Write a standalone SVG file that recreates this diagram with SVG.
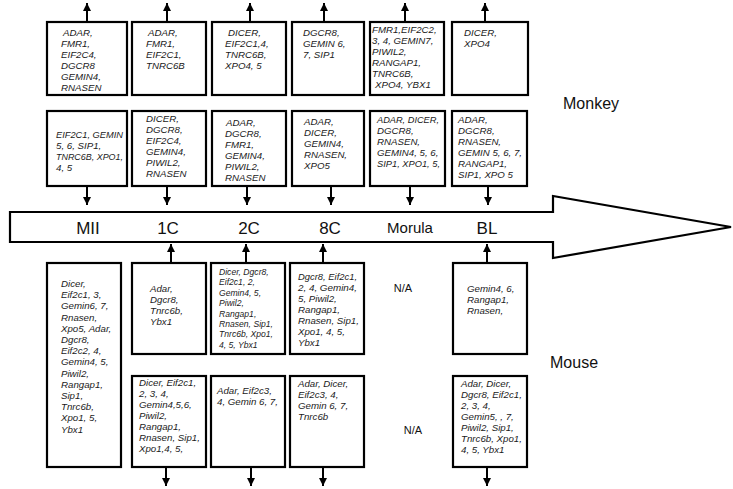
<svg xmlns="http://www.w3.org/2000/svg" width="733" height="489" viewBox="0 0 733 489">
<defs>
<style>
.box{fill:#fff;stroke:#000;stroke-width:2.2}
.t{font-family:"Liberation Sans",Arial,sans-serif;font-style:italic;font-size:9.7px;fill:#1a1a1a}
.s{font-size:8.6px}
.lab{font-family:"Liberation Sans",Arial,sans-serif;font-size:16px;fill:#111}
.na{font-family:"Liberation Sans",Arial,sans-serif;font-size:11px;fill:#111}
.con line{stroke:#000;stroke-width:2}
</style>
<marker id="ah" viewBox="0 0 8 8" refX="8" refY="4" markerWidth="8" markerHeight="8" markerUnits="userSpaceOnUse" orient="auto">
<path d="M0,0 L8,4 L0,8 Z" fill="#000"/>
</marker>
</defs>
<rect width="733" height="489" fill="#fff"/>

<g id="stage-arrow">
<polygon points="10,212 553,212 553,196 731,227 553,258 553,242 10,242" fill="#fff" stroke="#000" stroke-width="2.2" stroke-linejoin="miter"/>
<g class="lab" text-anchor="middle">
<text x="88" y="234" font-size="17">MII</text>
<text x="168" y="234" font-size="17">1C</text>
<text x="249" y="234" font-size="17">2C</text>
<text x="330" y="234" font-size="17">8C</text>
<text x="410" y="233" font-size="15">Morula</text>
<text x="487" y="234" font-size="17">BL</text>
</g>
</g>

<g id="label-monkey"><text class="lab" x="563" y="109">Monkey</text></g>
<g id="label-mouse"><text class="lab" x="550" y="368">Mouse</text></g>

<g class="con" id="connectors">
<line x1="87" y1="22" x2="87" y2="3" marker-end="url(#ah)"/>
<line x1="167" y1="22" x2="167" y2="3" marker-end="url(#ah)"/>
<line x1="250" y1="22" x2="250" y2="3" marker-end="url(#ah)"/>
<line x1="324" y1="22" x2="324" y2="3" marker-end="url(#ah)"/>
<line x1="405" y1="22" x2="405" y2="3" marker-end="url(#ah)"/>
<line x1="485" y1="22" x2="485" y2="3" marker-end="url(#ah)"/>
<line x1="87" y1="186" x2="87" y2="205" marker-end="url(#ah)"/>
<line x1="167" y1="186" x2="167" y2="205" marker-end="url(#ah)"/>
<line x1="247" y1="186" x2="247" y2="205" marker-end="url(#ah)"/>
<line x1="331" y1="186" x2="331" y2="205" marker-end="url(#ah)"/>
<line x1="410" y1="186" x2="410" y2="205" marker-end="url(#ah)"/>
<line x1="488" y1="186" x2="488" y2="205" marker-end="url(#ah)"/>
<line x1="171" y1="263" x2="171" y2="244" marker-end="url(#ah)"/>
<line x1="246" y1="263" x2="246" y2="244" marker-end="url(#ah)"/>
<line x1="323" y1="263" x2="323" y2="244" marker-end="url(#ah)"/>
<line x1="487" y1="263" x2="487" y2="244" marker-end="url(#ah)"/>
<line x1="166" y1="467" x2="166" y2="486" marker-end="url(#ah)"/>
<line x1="251" y1="467" x2="251" y2="486" marker-end="url(#ah)"/>
<line x1="323" y1="467" x2="323" y2="486" marker-end="url(#ah)"/>
<line x1="487" y1="467" x2="487" y2="486" marker-end="url(#ah)"/>
</g>

<!-- Monkey row 1 -->
<g id="monkey-mii-a">
<rect class="box" x="47" y="22" width="80" height="73"/>
<text class="t"><tspan x="63" y="36">ADAR,</tspan><tspan x="61" y="47">FMR1,</tspan><tspan x="61" y="58">EIF2C4,</tspan><tspan x="61" y="69">DGCR8</tspan><tspan x="61" y="80">GEMIN4,</tspan><tspan x="61" y="91">RNASEN</tspan></text>
</g>
<g id="monkey-1c-a">
<rect class="box" x="132" y="22" width="74" height="73"/>
<text class="t"><tspan x="148" y="36">ADAR,</tspan><tspan x="146" y="47">FMR1,</tspan><tspan x="146" y="58">EIF2C1,</tspan><tspan x="146" y="69">TNRC6B</tspan></text>
</g>
<g id="monkey-2c-a">
<rect class="box" x="212" y="22" width="74" height="73"/>
<text class="t"><tspan x="228" y="36">DICER,</tspan><tspan x="225" y="47">EIF2C1,4,</tspan><tspan x="225" y="58">TNRC6B,</tspan><tspan x="225" y="69">XPO4, 5</tspan></text>
</g>
<g id="monkey-8c-a">
<rect class="box" x="292" y="22" width="72" height="73"/>
<text class="t"><tspan x="303" y="36">DGCR8,</tspan><tspan x="303" y="47">GEMIN 6,</tspan><tspan x="303" y="58">7, SIP1</tspan></text>
</g>
<g id="monkey-morula-a">
<rect class="box" x="370" y="22" width="74" height="73"/>
<text class="t"><tspan x="372" y="33">FMR1,EIF2C2,</tspan><tspan x="372" y="44">3, 4, GEMIN7,</tspan><tspan x="372" y="55">PIWIL2,</tspan><tspan x="372" y="66">RANGAP1,</tspan><tspan x="372" y="77">TNRC6B,</tspan><tspan x="375" y="88">XPO4, YBX1</tspan></text>
</g>
<g id="monkey-bl-a">
<rect class="box" x="452" y="22" width="76" height="73"/>
<text class="t"><tspan x="464" y="36">DICER,</tspan><tspan x="464" y="47">XPO4</tspan></text>
</g>

<!-- Monkey row 2 -->
<g id="monkey-mii-b">
<rect class="box" x="47" y="111" width="80" height="75"/>
<text class="t"><tspan x="56" y="138" textLength="67" lengthAdjust="spacingAndGlyphs">EIF2C1, GEMIN</tspan><tspan x="56" y="149">5, 6, SIP1,</tspan><tspan x="56" y="160" textLength="67" lengthAdjust="spacingAndGlyphs">TNRC6B, XPO1,</tspan><tspan x="56" y="171">4, 5</tspan></text>
</g>
<g id="monkey-1c-b">
<rect class="box" x="132" y="111" width="74" height="75"/>
<text class="t"><tspan x="146" y="122">DICER,</tspan><tspan x="146" y="133">DGCR8,</tspan><tspan x="146" y="144">EIF2C4,</tspan><tspan x="146" y="155">GEMIN4,</tspan><tspan x="146" y="166">PIWIL2,</tspan><tspan x="146" y="177">RNASEN</tspan></text>
</g>
<g id="monkey-2c-b">
<rect class="box" x="212" y="111" width="74" height="75"/>
<text class="t"><tspan x="226" y="126">ADAR,</tspan><tspan x="225" y="137">DGCR8,</tspan><tspan x="225" y="148">FMR1,</tspan><tspan x="225" y="159">GEMIN4,</tspan><tspan x="225" y="170">PIWIL2,</tspan><tspan x="225" y="181">RNASEN</tspan></text>
</g>
<g id="monkey-8c-b">
<rect class="box" x="292" y="111" width="72" height="75"/>
<text class="t"><tspan x="304" y="125">ADAR,</tspan><tspan x="304" y="136">DICER,</tspan><tspan x="304" y="147">GEMIN4,</tspan><tspan x="304" y="158">RNASEN,</tspan><tspan x="304" y="169">XPO5</tspan></text>
</g>
<g id="monkey-morula-b">
<rect class="box" x="370" y="111" width="75" height="75"/>
<text class="t"><tspan x="377" y="123" textLength="62" lengthAdjust="spacingAndGlyphs">ADAR, DICER,</tspan><tspan x="377" y="134">DGCR8,</tspan><tspan x="377" y="145">RNASEN,</tspan><tspan x="377" y="156">GEMIN4, 5, 6,</tspan><tspan x="377" y="167" textLength="63" lengthAdjust="spacingAndGlyphs">SIP1, XPO1, 5,</tspan></text>
</g>
<g id="monkey-bl-b">
<rect class="box" x="452" y="111" width="75" height="75"/>
<text class="t"><tspan x="458" y="123">ADAR,</tspan><tspan x="458" y="134">DGCR8,</tspan><tspan x="458" y="145">RNASEN,</tspan><tspan x="458" y="156">GEMIN 5, 6, 7,</tspan><tspan x="458" y="167">RANGAP1,</tspan><tspan x="458" y="178">SIP1, XPO 5</tspan></text>
</g>

<!-- Mouse row 1 -->
<g id="mouse-mii">
<rect class="box" x="47" y="263" width="74" height="204"/>
<text class="t"><tspan x="61" y="287">Dicer,</tspan><tspan x="61" y="298.2">Eif2c1, 3,</tspan><tspan x="61" y="309.4">Gemin6, 7,</tspan><tspan x="61" y="320.6">Rnasen,</tspan><tspan x="61" y="331.8">Xpo5, Adar,</tspan><tspan x="61" y="343">Dgcr8,</tspan><tspan x="61" y="354.2">Eif2c2, 4,</tspan><tspan x="61" y="365.4">Gemin4, 5,</tspan><tspan x="61" y="376.6">Piwil2,</tspan><tspan x="61" y="387.8">Rangap1,</tspan><tspan x="61" y="399">Sip1,</tspan><tspan x="61" y="410.2">Tnrc6b,</tspan><tspan x="61" y="421.4">Xpo1, 5,</tspan><tspan x="61" y="432.6">Ybx1</tspan></text>
</g>
<g id="mouse-1c-a">
<rect class="box" x="132" y="263" width="74" height="91"/>
<text class="t"><tspan x="150" y="292">Adar,</tspan><tspan x="150" y="303">Dgcr8,</tspan><tspan x="150" y="314">Tnrc6b,</tspan><tspan x="150" y="325">Ybx1</tspan></text>
</g>
<g id="mouse-2c-a">
<rect class="box" x="211" y="263" width="74" height="91"/>
<text class="t s"><tspan x="219" y="275">Dicer, Dgcr8,</tspan><tspan x="219" y="285.4">Eif2c1, 2,</tspan><tspan x="219" y="295.8">Gemin4, 5,</tspan><tspan x="219" y="306.2">Piwil2,</tspan><tspan x="219" y="316.6">Rangap1,</tspan><tspan x="219" y="327">Rnasen, Sip1,</tspan><tspan x="219" y="337.4">Tnrc6b,  Xpo1,</tspan><tspan x="219" y="347.8">4,  5, Ybx1</tspan></text>
</g>
<g id="mouse-8c-a">
<rect class="box" x="290" y="263" width="74" height="91"/>
<text class="t"><tspan x="298" y="280" textLength="59" lengthAdjust="spacingAndGlyphs">Dgcr8, Eif2c1,</tspan><tspan x="298" y="291" textLength="59" lengthAdjust="spacingAndGlyphs">2, 4,  Gemin4,</tspan><tspan x="298" y="302">5, Piwil2,</tspan><tspan x="298" y="313">Rangap1,</tspan><tspan x="298" y="324">Rnasen, Sip1,</tspan><tspan x="298" y="335">Xpo1, 4,  5,</tspan><tspan x="298" y="346">Ybx1</tspan></text>
</g>
<g id="mouse-morula-a"><text class="na" x="403" y="292" text-anchor="middle">N/A</text></g>
<g id="mouse-bl-a">
<rect class="box" x="453" y="263" width="74" height="91"/>
<text class="t"><tspan x="467" y="292">Gemin4, 6,</tspan><tspan x="467" y="303">Rangap1,</tspan><tspan x="467" y="314">Rnasen,</tspan></text>
</g>

<!-- Mouse row 2 -->
<g id="mouse-1c-b">
<rect class="box" x="132" y="376" width="74" height="91"/>
<text class="t"><tspan x="139" y="386">Dicer, Eif2c1,</tspan><tspan x="139" y="397">2, 3,  4,</tspan><tspan x="139" y="408">Gemin4,5,6,</tspan><tspan x="139" y="419">Piwil2,</tspan><tspan x="139" y="430">Rangap1,</tspan><tspan x="139" y="441">Rnasen, Sip1,</tspan><tspan x="139" y="452">Xpo1,4, 5,</tspan></text>
</g>
<g id="mouse-2c-b">
<rect class="box" x="211" y="376" width="74" height="91"/>
<text class="t"><tspan x="217" y="394">Adar,  Eif2c3,</tspan><tspan x="217" y="405">4, Gemin 6, 7,</tspan></text>
</g>
<g id="mouse-8c-b">
<rect class="box" x="290" y="376" width="74" height="91"/>
<text class="t"><tspan x="298" y="387">Adar,  Dicer,</tspan><tspan x="298" y="398">Eif2c3,  4,</tspan><tspan x="298" y="409">Gemin 6, 7,</tspan><tspan x="298" y="420">Tnrc6b</tspan></text>
</g>
<g id="mouse-morula-b"><text class="na" x="413" y="434" text-anchor="middle">N/A</text></g>
<g id="mouse-bl-b">
<rect class="box" x="453" y="376" width="74" height="91"/>
<text class="t"><tspan x="461" y="387">Adar,  Dicer,</tspan><tspan x="461" y="398">Dgcr8, Eif2c1,</tspan><tspan x="461" y="409">2, 3,  4,</tspan><tspan x="461" y="420">Gemin5,  , 7,</tspan><tspan x="461" y="431">Piwil2, Sip1,</tspan><tspan x="461" y="442">Tnrc6b, Xpo1,</tspan><tspan x="461" y="453">4, 5, Ybx1</tspan></text>
</g>
</svg>
